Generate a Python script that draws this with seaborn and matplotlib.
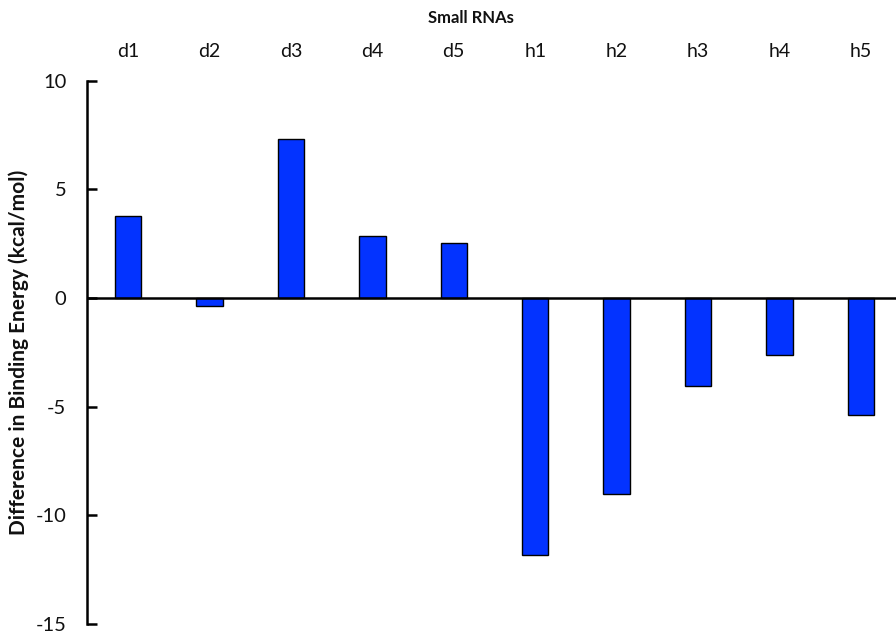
import matplotlib
matplotlib.use("Agg")
import matplotlib.pyplot as plt
import seaborn as sns
import pandas as pd

# Small RNA identifiers and their binding energy differences (kcal/mol)
rnas = ["d1", "d2", "d3", "d4", "d5", "h1", "h2", "h3", "h4", "h5"]
energy_diff = [3.76, -0.35, 7.31, 2.84, 2.52, -11.86, -9.02, -4.05, -2.61, -5.39]
y_ticks = [-15, -10, -5, 0, 5, 10]

sns.set_theme(style="white")
plt.rcParams["font.family"] = ["Lato", "DejaVu Sans"]

df = pd.DataFrame({"rna": rnas, "diff": energy_diff})

W, H = 896, 633
fig = plt.figure(figsize=(W / 100, H / 100), dpi=100)
ax = fig.add_axes([87.3 / W, (H - 623.7) / H, 1 - 87.3 / W, (623.7 - 80.7) / H])

sns.barplot(data=df, x="rna", y="diff", order=rnas, color="#0333FF",
            saturation=1, width=0.325, edgecolor="black", linewidth=1.0, ax=ax)

ax.set_ylim(-15, 10)
ax.set_xlim(-0.5, 9.43)
ax.set_yticks(y_ticks)
ax.set_yticklabels([str(t) for t in y_ticks], fontsize=14.5, color="#111111")

# Zero baseline across the plot
ax.axhline(0, color="black", linewidth=1.8, zorder=3)

for side in ["top", "right", "bottom"]:
    ax.spines[side].set_visible(False)
ax.spines["left"].set_color("black")
ax.spines["left"].set_linewidth(1.8)

ax.tick_params(axis="y", direction="in", length=7, width=1.8, color="black", left=True, pad=15)
ax.xaxis.tick_top()
ax.tick_params(axis="x", top=False, bottom=False, labeltop=True, labelbottom=False,
               labelsize=14, labelcolor="#111111", pad=9)
ax.set_xlabel("")
ax.set_ylabel("")
ax.grid(False)

fig.text(471 / W, 1 - 18 / H, "Small RNAs", fontsize=12, fontweight="bold",
         ha="center", va="center", color="#111111")
fig.text(19 / W, 1 - 352 / H, "Difference in Binding Energy (kcal/mol)", fontsize=15,
         fontweight="bold", rotation=90, ha="center", va="center", color="#111111")

fig.savefig("out.png", dpi=100)
